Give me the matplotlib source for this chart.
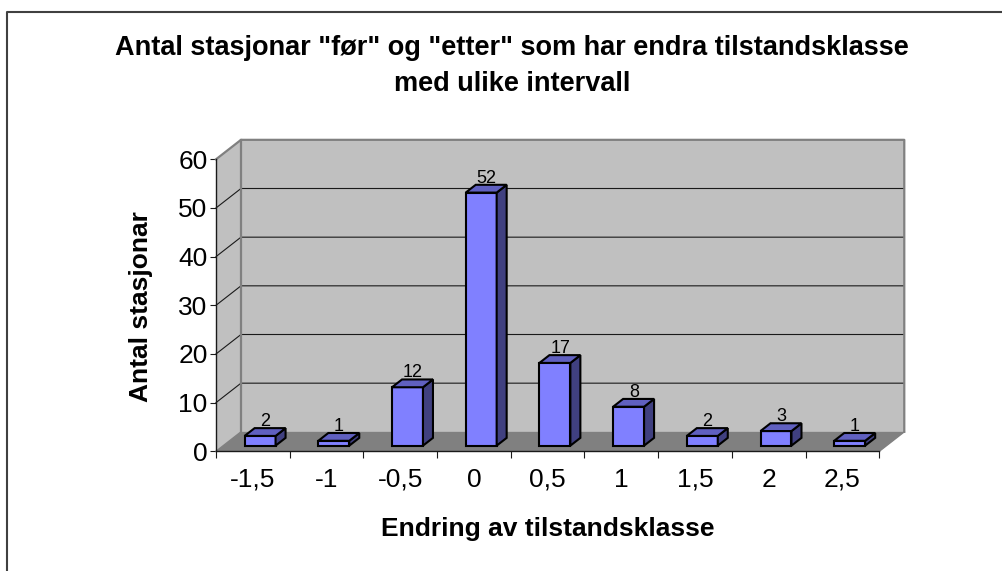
import matplotlib
matplotlib.use('Agg')
import matplotlib.pyplot as plt
from matplotlib.patches import Polygon

plt.rcParams['font.family'] = ['Liberation Sans', 'DejaVu Sans']

kategoriar = ['-1,5', '-1', '-0,5', '0', '0,5', '1', '1,5', '2', '2,5']
antal = [2, 1, 12, 52, 17, 8, 2, 3, 1]
y_ticks = [0, 10, 20, 30, 40, 50, 60]

W, H = 1003, 571
DX = 0.339  # djupn i x-data
DY = 4.0    # djupn i y-data

fig = plt.figure(figsize=(W / 100, H / 100), dpi=100)
ax = fig.add_axes([216 / W, 1 - 451.3 / H, 663.3 / W, 292 / H])
ax.set_xlim(0, len(kategoriar))
ax.set_ylim(0, 60)
ax.patch.set_visible(False)
for s in ax.spines.values():
    s.set_visible(False)


def pr(x, y, z):
    return (x + z * DX, y + z * DY)


def poly(pts, fc, ec='none', lw=0, z=1):
    ax.add_patch(Polygon(pts, closed=True, facecolor=fc, edgecolor=ec, linewidth=lw,
                         clip_on=False, zorder=z, joinstyle='miter'))


n = len(kategoriar)
# veggar og golv
poly([pr(0, 0, 1), pr(n, 0, 1), pr(n, 60, 1), pr(0, 60, 1)], '#c0c0c0')
poly([pr(0, 0, 0), pr(0, 0, 1), pr(0, 60, 1), pr(0, 60, 0)], '#c0c0c0')
poly([pr(0, 0, 0), pr(n, 0, 0), pr(n, 0, 1), pr(0, 0, 1)], '#808080')

# rutenett
for v in y_ticks[1:-1]:
    a, b, c = pr(0, v, 0), pr(0, v, 1), pr(n, v, 1)
    ax.plot([a[0], b[0], c[0]], [a[1], b[1], c[1]], color='#1a1a1a', lw=0.8, clip_on=False, zorder=2)

# kantar
kant = [pr(0, 60, 0), pr(0, 60, 1), pr(n, 60, 1), pr(n, 0, 1)]
ax.plot([p[0] for p in kant], [p[1] for p in kant], color='#808080', lw=1.6, clip_on=False, zorder=2)
ax.plot(*zip(pr(0, 0, 1), pr(0, 60, 1)), color='#808080', lw=1.6, clip_on=False, zorder=2)
ax.plot(*zip(pr(n, 0, 0), pr(n, 0, 1)), color='#808080', lw=1, clip_on=False, zorder=2)
ax.plot(*zip(pr(0, 0, 0), pr(0, 0, 1)), color='#808080', lw=1, clip_on=False, zorder=2)
ax.plot([0, 0], [0, 60], color='#1a1a1a', lw=1, clip_on=False, zorder=3)
ax.plot([0, n], [0, 0], color='#1a1a1a', lw=1, clip_on=False, zorder=3)

# soyler
z0, z1 = 0.29, 0.69
bw = 0.42
for i, v in enumerate(antal):
    x0, x1 = i + 0.5 - bw / 2, i + 0.5 + bw / 2
    poly([pr(x0, 0, z0), pr(x1, 0, z0), pr(x1, v, z0), pr(x0, v, z0)], '#8080ff', 'black', 1.5, 5)
    poly([pr(x1, 0, z0), pr(x1, 0, z1), pr(x1, v, z1), pr(x1, v, z0)], '#404080', 'black', 1.5, 5)
    poly([pr(x0, v, z0), pr(x1, v, z0), pr(x1, v, z1), pr(x0, v, z1)], '#6060c0', 'black', 1.5, 5)
    tx = pr(i + 0.5, v, 0.5)[0]
    ty = pr(i + 0.5, v, z1)[1]
    ax.annotate(str(v), (tx, ty), xytext=(0, 1.5), textcoords='offset points', ha='center', va='baseline',
                fontsize=13, color='black', zorder=6, annotation_clip=False)

ax.set_xticks(range(n + 1))
ax.set_xticklabels([])
ax.set_xticks([i + 0.5 for i in range(n)], minor=True)
ax.set_xticklabels(kategoriar, minor=True, fontsize=19)
ax.tick_params(axis='x', which='major', length=5, width=0.8, color='#1a1a1a')
ax.tick_params(axis='x', which='minor', length=0, pad=12)
ax.set_yticks(y_ticks)
ax.set_yticklabels([str(v) for v in y_ticks], fontsize=19)
ax.tick_params(axis='y', length=4, width=0.8, color='#1a1a1a', pad=2)

fig.text(512 / W, 1 - 48 / H, 'Antal stasjonar "før" og "etter" som har endra tilstandsklasse',
         ha='center', va='center', fontsize=19.5, fontweight='bold')
fig.text(512 / W, 1 - 84 / H, 'med ulike intervall', ha='center', va='center', fontsize=19.5, fontweight='bold')
fig.text(548 / W, 1 - 529 / H, 'Endring av tilstandsklasse', ha='center', va='center', fontsize=19, fontweight='bold')
fig.text(141 / W, 1 - 307 / H, 'Antal stasjonar', ha='center', va='center', rotation=90, fontsize=19, fontweight='bold')

# ramme rundt diagrammet
fig.add_artist(plt.Line2D([7.5 / W, 7.5 / W, 1], [0, 1 - 11.5 / H, 1 - 11.5 / H], color='#404040', lw=1.5))

fig.savefig('out.png', dpi=100)
